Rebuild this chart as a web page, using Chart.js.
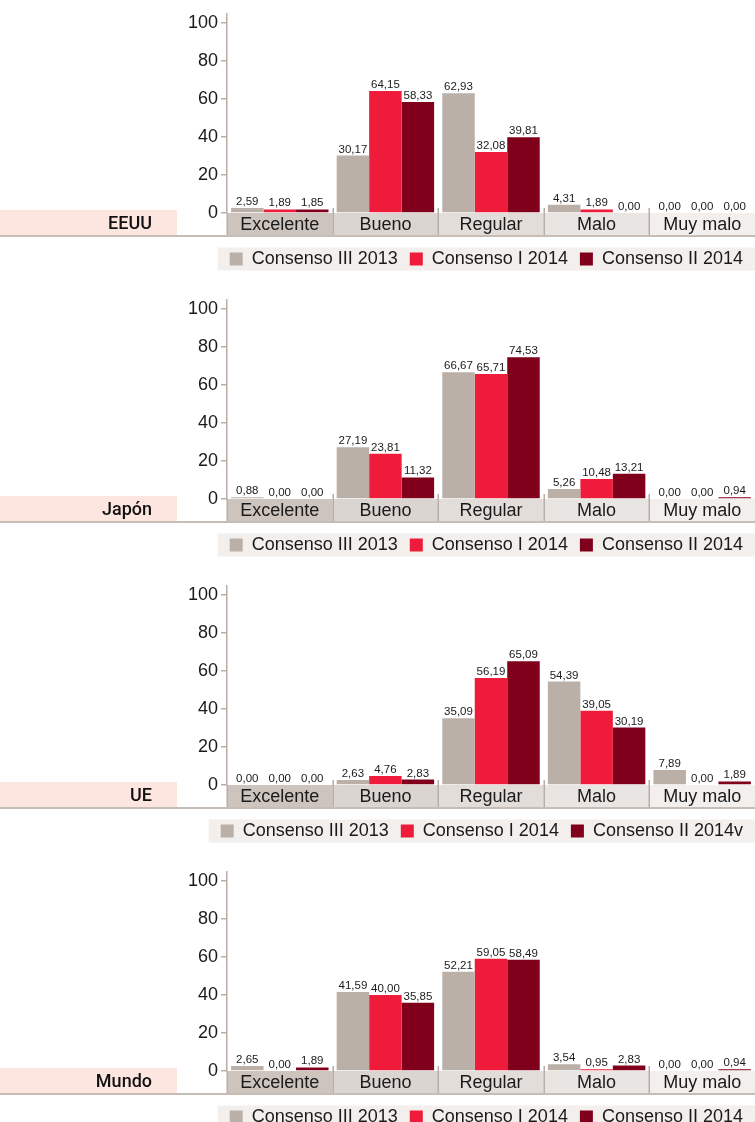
<!DOCTYPE html>
<html><head><meta charset="utf-8">
<script src="https://cdn.jsdelivr.net/npm/chart.js@4.4.1/dist/chart.umd.min.js"></script>
<style>
html,body{margin:0;padding:0;background:#fff;overflow:hidden;width:755px;height:1122px}
canvas{position:absolute;left:0}
</style></head><body>
<canvas id="c0" width="755" height="286" style="top:0px"></canvas>
<canvas id="c1" width="755" height="286" style="top:286px"></canvas>
<canvas id="c2" width="755" height="286" style="top:572px"></canvas>
<canvas id="c3" width="755" height="286" style="top:858px"></canvas>
<script>
const categories = ['Excelente','Bueno','Regular','Malo','Muy malo'];
const yTicks = [0,20,40,60,80,100];
const regions = ['EEUU','Japón','UE','Mundo'];
const seriesLabels = ['Consenso III 2013','Consenso I 2014','Consenso II 2014'];
const seriesLabelsUE = ['Consenso III 2013','Consenso I 2014','Consenso II 2014v'];

const eeuuIII2013 = [2.59, 30.17, 62.93, 4.31, 0.00];
const eeuuI2014   = [1.89, 64.15, 32.08, 1.89, 0.00];
const eeuuII2014  = [1.85, 58.33, 39.81, 0.00, 0.00];

const japonIII2013 = [0.88, 27.19, 66.67, 5.26, 0.00];
const japonI2014   = [0.00, 23.81, 65.71, 10.48, 0.00];
const japonII2014  = [0.00, 11.32, 74.53, 13.21, 0.94];

const ueIII2013 = [0.00, 2.63, 35.09, 54.39, 7.89];
const ueI2014   = [0.00, 4.76, 56.19, 39.05, 0.00];
const ueII2014  = [0.00, 2.83, 65.09, 30.19, 1.89];

const mundoIII2013 = [2.65, 41.59, 52.21, 3.54, 0.00];
const mundoI2014   = [0.00, 40.00, 59.05, 0.95, 0.00];
const mundoII2014  = [1.89, 35.85, 58.49, 2.83, 0.94];

const panels = [
  {region: regions[0], labels: seriesLabels,   data: [eeuuIII2013, eeuuI2014, eeuuII2014]},
  {region: regions[1], labels: seriesLabels,   data: [japonIII2013, japonI2014, japonII2014]},
  {region: regions[2], labels: seriesLabelsUE, data: [ueIII2013, ueI2014, ueII2014]},
  {region: regions[3], labels: seriesLabels,   data: [mundoIII2013, mundoI2014, mundoII2014]}
];

const barColors = ['#bab0a8', '#ee1c3a', '#80001c'];
const bandColors = ['#cdc4be', '#dbd5d1', '#e2ddd9', '#e9e5e2', '#f2efed'];
const lineColor = '#b8aea7';
const textColor = '#1a1a1a';
const FONT = "'Liberation Sans', Arial, sans-serif";

Chart.defaults.font.family = FONT;
Chart.defaults.color = textColor;

const panelPlugin = {
  id: 'panel',
  beforeDraw(chart, args, opts) {
    const {ctx, chartArea: a} = chart;
    const n = categories.length;
    const w = (a.right - a.left) / n;
    const bandTop = a.bottom, bandBot = a.bottom + 22;
    ctx.save();
    // pink label band
    ctx.fillStyle = '#fde6e0';
    ctx.fillRect(0, a.bottom - 3, 177, bandBot - (a.bottom - 3));
    ctx.fillStyle = '#111';
    ctx.font = "500 18px Roboto, 'Liberation Sans', sans-serif";
    ctx.textAlign = 'right';
    ctx.textBaseline = 'middle';
    ctx.fillText(opts.region, 152, a.bottom + 11);
    // category bands
    for (let i = 0; i < n; i++) {
      ctx.fillStyle = bandColors[i];
      ctx.fillRect(a.left + i * w, bandTop, w, bandBot - bandTop);
    }
    // legend background
    const lg = chart.legend;
    if (lg && lg.legendHitBoxes && lg.legendHitBoxes.length) {
      const hb = lg.legendHitBoxes[0];
      const cy = hb.top + hb.height / 2;
      ctx.fillStyle = '#f2efec';
      ctx.fillRect(hb.left - 12, cy - 11.5, chart.width - (hb.left - 12), 23);
    }
    ctx.restore();
  },
  afterDatasetsDraw(chart) {
    const {ctx} = chart;
    ctx.save();
    ctx.font = "11.5px " + FONT;
    ctx.fillStyle = textColor;
    ctx.textAlign = 'center';
    ctx.textBaseline = 'alphabetic';
    chart.data.datasets.forEach((ds, di) => {
      const meta = chart.getDatasetMeta(di);
      meta.data.forEach((el, i) => {
        const v = ds.data[i];
        ctx.fillText(v.toFixed(2).replace('.', ','), el.x, el.y - 3);
      });
    });
    ctx.restore();
  },
  afterDraw(chart) {
    const {ctx, chartArea: a} = chart;
    const n = categories.length;
    const w = (a.right - a.left) / n;
    ctx.save();
    ctx.strokeStyle = lineColor;
    ctx.lineWidth = 1.5;
    for (let i = 0; i < n; i++) {
      const x = Math.round(a.left + i * w) + 0.25;
      ctx.beginPath();
      ctx.moveTo(x, i === 0 ? a.bottom : a.bottom - 5);
      ctx.lineTo(x, a.bottom + 22);
      ctx.stroke();
    }
    ctx.strokeStyle = '#c6bdb7';
    ctx.lineWidth = 2;
    ctx.beginPath();
    ctx.moveTo(0, a.bottom + 23);
    ctx.lineTo(chart.width, a.bottom + 23);
    ctx.stroke();
    ctx.restore();
  }
};

panels.forEach((p, idx) => {
  new Chart(document.getElementById('c' + idx), {
    type: 'bar',
    data: {
      labels: categories,
      datasets: p.data.map((d, i) => ({
        label: p.labels[i],
        data: d,
        backgroundColor: barColors[i],
        borderWidth: 0,
        barPercentage: 1,
        categoryPercentage: 0.923
      }))
    },
    plugins: [panelPlugin],
    options: {
      responsive: false,
      animation: false,
      devicePixelRatio: 1,
      layout: {padding: {top: 14, left: 0, right: 0, bottom: 8}},
      plugins: {
        panel: {region: p.region},
        tooltip: {enabled: false},
        legend: {
          display: true,
          position: 'bottom',
          align: 'end',
          labels: {
            boxWidth: 13, boxHeight: 13, padding: 12,
            color: textColor,
            font: {size: 18, family: FONT}
          }
        }
      },
      scales: {
        x: {
          offset: true,
          grid: {display: false, drawTicks: false},
          border: {display: false},
          ticks: {padding: 1, color: textColor, font: {size: 18}, maxRotation: 0, autoSkip: false},
          afterFit: s => { s.height = 25; }
        },
        y: {
          min: 0, max: 104.6,
          afterBuildTicks: s => { s.ticks = yTicks.map(v => ({value: v})); },
          afterFit: s => { s.width = 227; },
          border: {color: lineColor, width: 1.5},
          grid: {drawOnChartArea: false, tickLength: 6, color: lineColor, lineWidth: 1.5},
          ticks: {padding: 3, color: textColor, font: {size: 18}}
        }
      }
    }
  });
});
</script>
</body></html>
